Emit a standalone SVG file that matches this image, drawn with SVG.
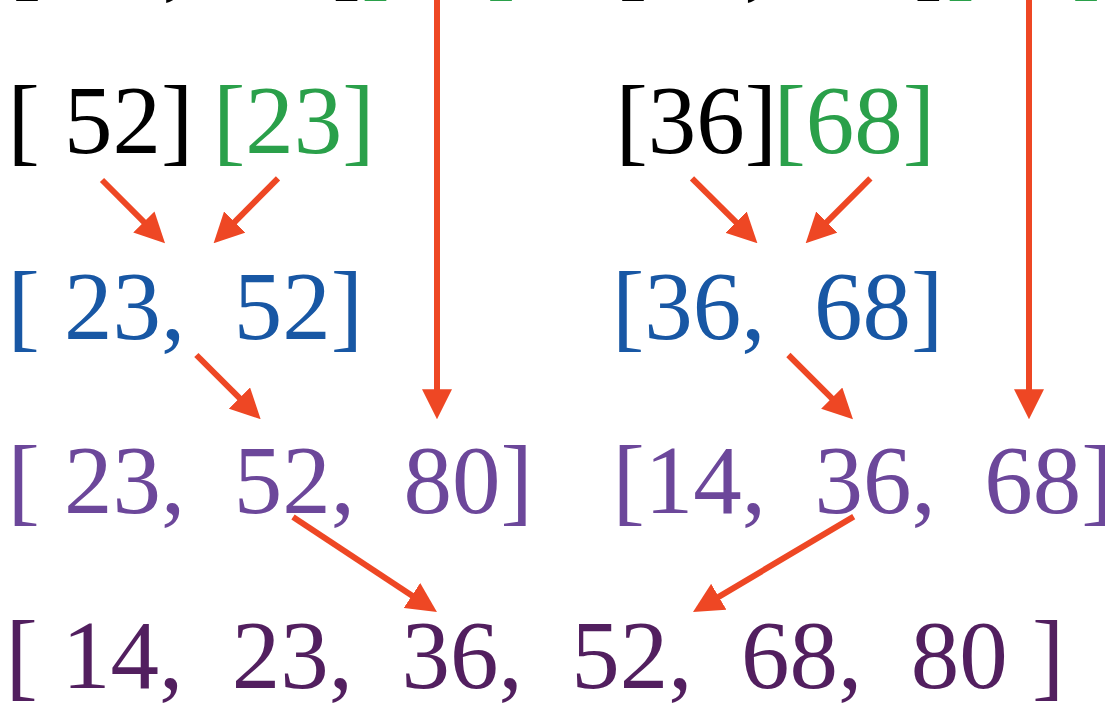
<svg xmlns="http://www.w3.org/2000/svg" width="1105" height="708" viewBox="0 0 1105 708">
<style>
text{font-family:"Liberation Serif","Times New Roman",serif;font-size:97px;white-space:pre}
.k{fill:#000000}.g{fill:#2AA04A}.b{fill:#1857A4}.p{fill:#6C479A}.d{fill:#521F5F}
.a{stroke:#EE4724;stroke-width:6;fill:none;marker-end:url(#ah)}
</style>
<defs>
<marker id="ah" markerUnits="userSpaceOnUse" viewBox="0 0 30 30" markerWidth="30" markerHeight="30" refX="8" refY="15" orient="auto">
<path d="M0,0 L30,15 L0,30 Z" fill="#EE4724"/>
</marker>
</defs>
<rect width="1105" height="708" fill="#ffffff"/>
<g id="n-top-left"><text xml:space="preserve" x="9" y="-12" class="k">[ 52,  23]</text><text x="357.5" y="-12" class="g">[80]</text></g>
<g id="n-top-right"><text xml:space="preserve" x="615" y="-12" class="k">[36,  68]</text><text x="942.5" y="-12" class="g">[14]</text></g>
<g id="n-52"><text xml:space="preserve" x="7.5" y="153" class="k">[ 52]</text></g>
<g id="n-23"><text x="213" y="153" class="g">[23]</text></g>
<g id="n-36"><text x="615.5" y="153" class="k">[36]</text></g>
<g id="n-68"><text x="773.5" y="153" class="g">[68]</text></g>
<g id="n-23-52"><text xml:space="preserve" x="7.5" y="339" class="b">[ 23,  52]</text></g>
<g id="n-36-68"><text xml:space="preserve" x="612" y="339" class="b">[36,  68]</text></g>
<g id="n-23-52-80"><text xml:space="preserve" x="7.5" y="513" class="p">[ 23,  52,  80]</text></g>
<g id="n-14-36-68"><text xml:space="preserve" x="612.5" y="513" class="p">[14,  36,  68]</text></g>
<g id="n-final"><text xml:space="preserve" x="5.5" y="688" class="d">[ 14,  23,  36,  52,  68,  80 ]</text></g>
<g id="connectors">
<line class="a" x1="102" y1="180" x2="149.5" y2="227.7"/>
<line class="a" x1="278" y1="178.3" x2="229.1" y2="227.7"/>
<line class="a" x1="692" y1="178.3" x2="741.8" y2="227.8"/>
<line class="a" x1="870.4" y1="178.3" x2="821.2" y2="227.7"/>
<line class="a" x1="437" y1="0" x2="437" y2="397.3"/>
<line class="a" x1="1029" y1="0" x2="1029" y2="397.3"/>
<line class="a" x1="196.4" y1="355" x2="245.1" y2="403.7"/>
<line class="a" x1="788.4" y1="355" x2="837.4" y2="403.8"/>
<line class="a" x1="293" y1="517" x2="418.6" y2="599.9"/>
<line class="a" x1="853.7" y1="516.7" x2="711.9" y2="600.8"/>
</g>
</svg>
